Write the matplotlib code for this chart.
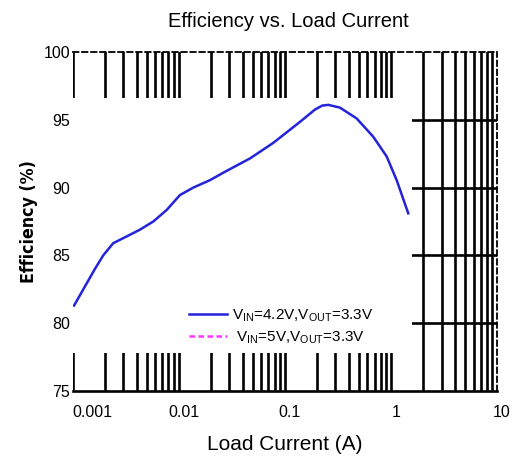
import matplotlib
matplotlib.use("Agg")
import matplotlib.pyplot as plt
import matplotlib.ticker as mticker
import matplotlib.transforms as mtransforms
from matplotlib.patches import Rectangle

plt.rcParams['font.family'] = ['Liberation Sans', 'DejaVu Sans']
plt.rcParams['mathtext.fontset'] = 'custom'
plt.rcParams['mathtext.rm'] = 'Liberation Sans'

# Efficiency curve (VIN=4.2V, VOUT=3.3V)
load_current = [0.00103, 0.00126, 0.00162, 0.00194, 0.00241, 0.00323, 0.00431,
                0.00575, 0.00769, 0.01026, 0.0137, 0.0197, 0.0263, 0.0469,
                0.0778, 0.139, 0.192, 0.225, 0.257, 0.330, 0.475, 0.681, 0.911,
                1.132, 1.456]
eff_42v = [81.3, 82.5, 84.0, 85.0, 85.9, 86.4, 86.9, 87.5, 88.35, 89.45,
           90.0, 90.55, 91.1, 92.15, 93.3, 94.85, 95.75, 96.05, 96.1, 95.9, 95.1,
           93.75, 92.3, 90.55, 88.1]
# second curve is not visible in the original, only its legend entry
load_current_5v = []
eff_5v = []

labels = [r'V$_{\mathrm{IN}}$=4.2V,V$_{\mathrm{OUT}}$=3.3V',
          r' V$_{\mathrm{IN}}$=5V,V$_{\mathrm{OUT}}$=3.3V']
xticks = [0.001, 0.01, 0.1, 1, 10]
xticklabels = ['0.001', '0.01', '0.1', '1', '10']
yticks = [75, 80, 85, 90, 95, 100]

fig = plt.figure(figsize=(5.14, 4.63), dpi=100)
ax = fig.add_axes([0.1414, 0.1555, 0.8256, 0.7322])

ax.plot(load_current, eff_42v, color='#2323dc', lw=1.8, label=labels[0], zorder=3)
ax.plot(load_current_5v, eff_5v, color='#ff33ff', lw=1.8, ls=(0, (2.2, 1.4)),
        label=labels[1], zorder=3)

ax.set_xscale('log')
ax.set_xlim(0.001, 10)
ax.set_ylim(75, 100)
ax.set_xticks(xticks)
ax.set_xticklabels(xticklabels)
ax.xaxis.set_minor_locator(mticker.LogLocator(base=10, subs=range(2, 10)))
ax.xaxis.set_minor_formatter(mticker.NullFormatter())
ax.set_yticks(yticks)

ax.tick_params(axis='both', which='both', length=0, labelsize=11.5)
ax.tick_params(axis='x', pad=10)
ax.tick_params(axis='y', pad=2)

# grid: heavy black lines, partly hidden by a white box like in the datasheet
ax.grid(True, which='both', axis='x', color='black', lw=1.9)
ax.grid(True, which='major', axis='y', color='black', lw=1.9)
ax.set_axisbelow(True)
for gl in [ax.get_ygridlines()[0], ax.get_ygridlines()[-1], ax.get_xgridlines()[-1]]:
    gl.set_visible(False)
ax.add_patch(Rectangle((0.0008, 77.8), 1.58 - 0.0008, 96.6 - 77.8,
                       facecolor='white', edgecolor='none', zorder=1))

ax.spines['left'].set_visible(False)
ax.spines['bottom'].set_linewidth(1.9)
for s in ['top', 'right']:
    ax.spines[s].set_linestyle((0, (3, 2)))
    ax.spines[s].set_linewidth(1.3)

# shift x tick labels like the original
tls = ax.get_xticklabels()
tls[0].set_horizontalalignment('left')
for t in tls[1:]:
    t.set_transform(t.get_transform() + mtransforms.ScaledTranslation(5 / 100, 0, fig.dpi_scale_trans))

ax.set_title('Efficiency vs. Load Current', fontsize=14.5, pad=18)
ax.title.set_transform(ax.title.get_transform() + mtransforms.ScaledTranslation(4 / 100, 0, fig.dpi_scale_trans))
ax.set_xlabel('Load Current (A)', fontsize=15, labelpad=11)
ax.set_ylabel('Efficiency (%)', fontsize=12.8, fontweight='bold',
              family='DejaVu Sans', fontstretch='condensed', labelpad=4)

ax.legend(loc='upper left', bbox_to_anchor=(181 / 514, 1 - 300 / 463),
          bbox_transform=fig.transFigure, frameon=False, fontsize=11,
          handlelength=2.5, handletextpad=0.35, labelspacing=0.35,
          borderpad=0.0)

fig.savefig('out.png', dpi=100)
